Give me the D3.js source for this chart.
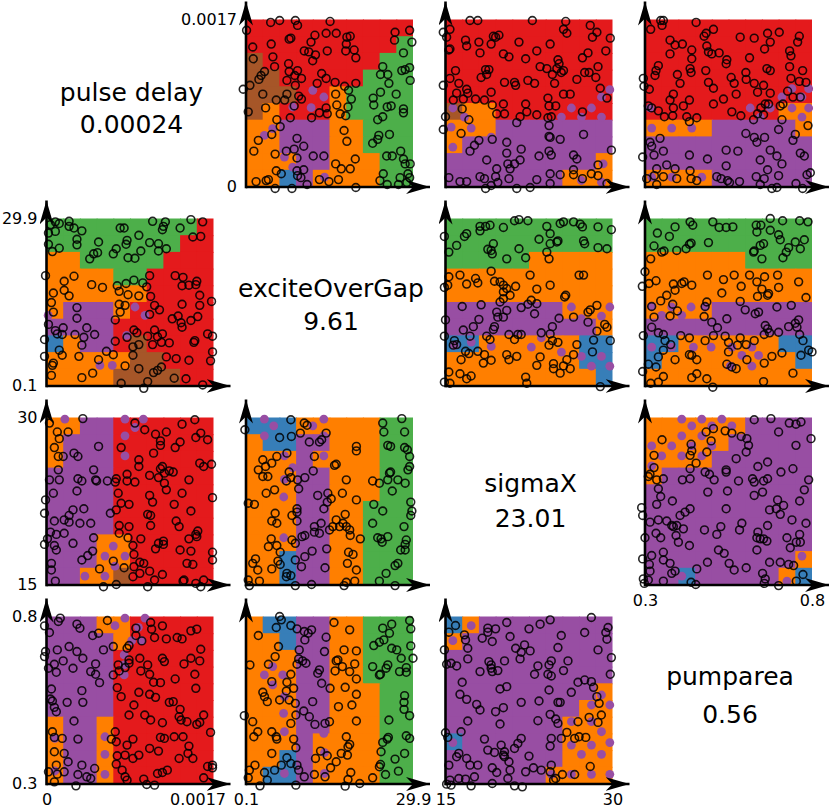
<!DOCTYPE html>
<html>
<head>
<meta charset="utf-8">
<script src="https://cdn.jsdelivr.net/npm/d3@7"></script>
<style>
  html, body { margin: 0; padding: 0; background: #fff; }
  svg { display: block; font-family: "DejaVu Sans", sans-serif; }
</style>
</head>
<body>
<svg id="chart" width="829" height="809"></svg>
<script>
const dimNames = ['pulse delay', 'exciteOverGap', 'sigmaX', 'pumparea']
const dimMeans = ['0.00024', '9.61', '23.01', '0.56']
const dimDomains = [[0, 0.0017], [0.1, 29.9], [15, 30], [0.3, 0.8]]
const dimTicks = [['0', '0.0017'], ['0.1', '29.9'], ['15', '30'], ['0.3', '0.8']]

const classColors = { R: '#e41a1c', B: '#377eb8', G: '#4daf4a', P: '#984ea3', O: '#ff7f00', N: '#a65628' }

// sampled points, [upper dim, left dim] of the top right panels. the lower panels are the same pairs flipped
const excitePulse = [[4.5,.00167],[6.1,.00169],[8.9,.00169],[9.3,.00164],[15.1,.00168],[.2,.00159],[26.7,.00157],[29.3,.00159],[12.4,.00154],[14.4,.00156],[16.2,.00156],[8.1,.00151],[7.8,.0015],[18.1,.00152],[18.7,.00153],[26.6,.00149],[29.7,.00147],[4.6,.00145],[1.3,.00142],[11.7,.00147],[18,.00145],[17.9,.00138],[10.5,.00138],[11.3,.00137],[12.5,.00134],[14.6,.00138],[19.4,.00139],[4.9,.00132],[1.4,.0013],[19.7,.00131],[12,.00128],[7.7,.00125],[28.2,.00136],[5.2,.00122],[24.5,.00122],[7.8,.00117],[9.3,.00118],[3.4,.00117],[2.8,.00113],[2.4,.00109],[7.4,.00108],[13.6,.00115],[14.4,.0011],[8.8,.00113],[10,.0011],[16,.00106],[12.8,.00105],[19.7,.00105],[24.1,.00114],[25.4,.00114],[27.9,.00118],[28.5,.00119],[29.3,.00121],[25.6,.00105],[29.4,.00108],[.8,.00103],[-.4,.00099],[8.9,.00103],[17.7,.00102],[18.4,.00098],[24.1,.00096],[22.8,.0009],[26.9,.00094],[3.1,.00094],[7.4,.00094],[16.1,.00094],[5.5,.00088],[7,.00088],[9.5,.00092],[10,.00089],[18.9,.00089],[22.9,.00083],[25.3,.00081],[26,.00082],[28.2,.00079],[28.2,.00075],[.5,.00076],[3.6,.0008],[8.7,.00082],[14.4,.0008],[16.3,.00083],[18.3,.00081],[13.2,.00075],[14.6,.00074],[11.8,.0007],[16.9,.00074],[17.9,.00072],[8,.0007],[23.6,.00068],[24.5,.00071],[5.6,.00068],[6.2,.00061],[4.7,.00053],[2.3,.00047],[17.6,.00057],[18.1,.00046],[25.7,.00053],[23.8,.00052],[23.6,.00048],[22.7,.00044],[9.2,.00049],[10.4,.00041],[8.7,.00038],[1.5,.00036],[5.3,.00033],[7.3,.00036],[9.2,.00029],[12.1,.00031],[14,.00031],[19.6,.00028],[25.2,.00031],[26.2,.00031],[27.7,.00036],[28.2,.00028],[28.5,.00023],[29.4,.00023],[16.1,.00023],[17.1,.00018],[18.7,.00018],[5.5,.00016],[9.2,.00016],[10.4,.00017],[6.4,.00013],[9.3,.00011],[9.9,.00009],[24.6,.00013],[27.6,.00009],[29,.00013],[29.3,.00009],[1.9,.00005],[3.7,.00006],[4.1,.00007],[13.2,.00007],[14.9,.00005],[16.6,.00007],[11,.00002],[5.3,-.00002],[8.3,-.00002],[19.7,-.00001],[25.3,.00002],[27.3,.00002],[28.8,.00004],[24,.00006]]

const sigmaPulse = [[17.2,.00169],[17.9,.00169],[22.8,.00169],[25.8,.00168],[28,.00164],[15.4,.0016],[14.8,.00157],[25.6,.0016],[25.9,.00156],[28.6,.00157],[19.3,.00153],[19.8,.00154],[19.5,.00152],[28.2,.00152],[29.8,.00151],[15.1,.00152],[16.8,.00149],[18,.00147],[21.6,.00147],[24.4,.00145],[19.1,.00145],[16.9,.00143],[15.3,.00139],[15.4,.0014],[18.1,.00136],[23.2,.00138],[27.8,.00136],[29.4,.00138],[20.2,.00135],[20.7,.00132],[22.2,.0013],[27.3,.00131],[25.1,.00129],[25.2,.00125],[15.9,.00118],[23.5,.00122],[24.1,.0012],[18.6,.00119],[18.9,.00119],[18.7,.00114],[28.7,.00122],[25,.0012],[25.6,.00118],[25.4,.00116],[24.6,.00114],[27.5,.00116],[27.9,.00116],[18.2,.00111],[28.5,.00111],[15.4,.0011],[26.8,.00109],[20.3,.00106],[21.2,.00106],[21.3,.00103],[22.4,.00108],[23,.00105],[24.8,.00105],[16.2,.00105],[14.8,.00103],[28.9,.001],[16.9,.00099],[19.1,.00096],[25.6,.00094],[26.2,.00094],[29.5,.0009],[16,.00095],[15.7,.00088],[16.6,.00089],[17.7,.00089],[18.5,.00088],[24.2,.0009],[17,.00095],[22.2,.00084],[20.2,.00084],[24.3,.00082],[24.9,.00082],[19.2,.00083],[16.5,.00079],[19.6,.00074],[20.3,.00074],[22.3,.00076],[23.2,.00073],[21.7,.00071],[27.3,.00076],[17.1,.00068],[24.2,.0007],[24.5,.00071],[15,.00071],[21.4,.00065],[24.3,.00062],[14.8,.00058],[16.4,.00054],[27.4,.00053],[24.3,.00051],[24.4,.0005],[19.2,.00048],[25.3,.00048],[20.5,.00045],[18,.00047],[17.6,.00042],[17.2,.00036],[21.8,.00038],[20.5,.00034],[24.3,.00036],[24.5,.00032],[29.9,.00037],[23.4,.00031],[26.5,.00032],[26.8,.00028],[18.7,.00027],[21.7,.00027],[21.2,.00023],[20.6,.00023],[20.8,.00018],[19.6,.00018],[28.7,.00022],[26.5,.00017],[26.5,.00012],[27.3,.00008],[28.1,.00013],[28.7,.00011],[25.3,.00012],[24.4,.00013],[15.3,.00009],[18.1,.0001],[18.5,.00008],[19.5,.0001],[20.7,.00008],[16.3,.00005],[16.9,.00005],[19.7,.00004],[23.2,.00007],[24.4,.00003],[18.6,-.00002],[21.4,-.00002],[22.6,-.00001],[19.1,.00001],[29.5,.00003]]

const pumpPulse = [[.347,.00169],[.355,.00169],[.351,.00164],[.453,.00167],[.317,.0016],[.505,.0016],[.483,.00156],[.477,.00153],[.585,.00152],[.627,.00151],[.667,.00156],[.702,.00157],[.675,.00147],[.762,.00153],[.757,.00147],[.375,.00149],[.412,.00145],[.39,.00144],[.485,.00143],[.658,.0014],[.44,.00139],[.733,.00138],[.375,.00135],[.49,.00137],[.5,.00135],[.522,.00136],[.737,.00133],[.613,.00131],[.44,.0013],[.545,.00129],[.543,.00125],[.34,.00123],[.333,.00118],[.33,.00113],[.435,.0012],[.482,.00118],[.438,.00116],[.602,.00116],[.665,.0012],[.675,.00118],[.733,.00122],[.772,.00118],[.397,.00114],[.558,.00111],[.737,.0011],[.295,.0011],[.297,.00102],[.405,.00105],[.49,.00106],[.567,.00105],[.603,.00109],[.627,.00105],[.655,.00103],[.762,.00107],[.782,.00106],[.313,.00099],[.505,.001],[.385,.00094],[.637,.00096],[.675,.00095],[.727,.00097],[.573,.00094],[.535,.00089],[.433,.00088],[.375,.00088],[.743,.00091],[.765,.00091],[.505,.00084],[.66,.00084],[.67,.00084],[.713,.00084],[.705,.00082],[.32,.0008],[.385,.0008],[.415,.00082],[.31,.00082],[.34,.00077],[.56,.00076],[.647,.0008],[.637,.00074],[.655,.00073],[.383,.00072],[.587,.00072],[.358,.00071],[.425,.00071],[.455,.0007],[.625,.00068],[.433,.00066],[.71,.00068],[.788,.00062],[.7,.00058],[.602,.00054],[.627,.0005],[.635,.00045],[.658,.0005],[.75,.00053],[.743,.00047],[.345,.00049],[.315,.00045],[.32,.00041],[.543,.00037],[.578,.00036],[.675,.00037],[.327,.00032],[.355,.00036],[.433,.00032],[.487,.00028],[.765,.00034],[.777,.00031],[.293,.0003],[.695,.00031],[.71,.00023],[.645,.00027],[.543,.00021],[.365,.00022],[.335,.00018],[.39,.00018],[.435,.00016],[.667,.00017],[.7,.00011],[.328,.00011],[.355,.0001],[.395,.00008],[.305,.00008],[.438,.00008],[.455,.00006],[.515,.0001],[.547,.00006],[.583,.00005],[.633,.0001],[.657,.00008],[.785,.00012],[.795,.00014],[.335,.00002],[.645,.00002],[.68,-.00002],[.695,-.00001],[.752,.00003],[.772,-.00002],[.528,.00008],[.553,.00004]]

const sigmaExcite = [[21.2,29.5],[21.6,29.7],[22.4,29.5],[24.1,28.5],[25.3,29],[25.6,29.3],[26.5,29.3],[27.1,28.9],[27.3,28.4],[28.7,28.4],[29.9,27.9],[18.1,28.5],[18.6,28.5],[19,28.7],[18.1,27.7],[20.2,28.3],[16.9,27.2],[14.9,26.7],[24.4,27.2],[16.7,26.7],[16,25.1],[23.4,26.2],[19.3,25.4],[24.4,25.4],[25,25.7],[25.1,25.9],[27.4,25.9],[27.5,25.4],[28.7,24.7],[29.5,24.5],[15.3,23.9],[18.8,24.4],[19.1,24.2],[19.2,23.6],[21.6,24.5],[24.1,23.9],[24.3,22.7],[20.5,22.7],[22.2,22.9],[19.1,20.5],[15.3,19.5],[16.3,19.8],[17.7,19.2],[17.9,18.4],[16.9,18.2],[22.6,19.8],[27,19.8],[27.4,19.8],[14.9,17.6],[15.2,18],[19.4,18.7],[19.9,18.6],[20.2,18],[24.4,18],[21.3,17.8],[23.2,17.3],[20.5,17.4],[20.2,16.8],[20.8,16.2],[20.2,15.6],[25.8,16.2],[25.7,15.9],[19.9,15],[22.4,14.6],[22.7,15.3],[23.2,14.7],[16.5,14.2],[18.2,14.5],[21.8,14],[28.6,14.4],[28,13.6],[27.8,13.2],[23,12.9],[19.6,13.2],[20.5,13.5],[19.7,12.3],[20.2,12.3],[26.5,12.3],[25.2,12.1],[15,11.8],[18,11.9],[27.8,11.4],[29.3,11],[29.5,10.5],[16.6,10],[17.5,10.6],[19.4,10.6],[19.3,10.1],[24.6,10.6],[28.6,9.8],[14.9,8.9],[17.2,8.9],[18.7,8.9],[19,8.3],[20.7,9.2],[21.5,9.2],[21.8,9.2],[21.2,8.3],[23.6,9.5],[24.4,9.3],[24.6,8.1],[25.1,7.8],[28.3,8.2],[29.8,8.1],[15.8,8.1],[16,7.4],[15.7,7.3],[24.3,7.3],[26.8,7.4],[28.2,6.1],[16.8,6.2],[17.1,5.8],[17.9,6.2],[18.5,5.6],[20.5,5.6],[20.7,4.7],[21.4,5.3],[23.5,5.2],[26.5,5.6],[25.9,4.7],[16.4,4.7],[18.4,4.1],[19.1,4.6],[23.2,3.7],[24.7,4],[24.7,3.1],[25.6,3.6],[26.2,3.1],[25.3,2.3],[15.3,2.5],[16.3,2.2],[17.3,1.8],[16.9,1.3],[22.2,1.6],[22.3,.5],[14.9,.7],[15.4,.5],[28.9,-.1]]

const pumpExcite = [[.39,28.4],[.435,29.3],[.443,28.7],[.503,29.3],[.522,28.3],[.543,28.3],[.563,28.4],[.633,28.7],[.647,28.7],[.675,29.9],[.712,29.5],[.763,29.5],[.788,29.3],[.635,27.5],[.675,27.8],[.337,27.3],[.373,26.7],[.7,27],[.705,26.1],[.75,25.7],[.777,26.1],[.49,25.6],[.438,25.5],[.433,25.3],[.327,25],[.395,24.2],[.423,24.5],[.655,25.4],[.645,25.1],[.73,24.7],[.723,23.9],[.765,24.5],[.625,23.9],[.627,24.1],[.35,23.9],[.357,24.1],[.65,22.7],[.713,22.9],[.317,22.7],[.3,20.4],[.487,19.8],[.535,19],[.567,19.8],[.613,19.8],[.658,19.5],[.635,18.6],[.697,19.8],[.76,18.6],[.782,15.8],[.312,18.3],[.333,18.8],[.292,17.8],[.385,18.2],[.39,17.1],[.41,18.3],[.417,18.6],[.44,18],[.588,17.8],[.65,17.3],[.7,17.6],[.67,16.5],[.667,16.2],[.53,16.6],[.637,16],[.365,16.2],[.347,15.2],[.585,15.1],[.383,14.6],[.32,14.2],[.485,15],[.48,14.2],[.738,14.4],[.695,14.1],[.6,13.6],[.63,12.9],[.64,13.2],[.397,13.4],[.327,12.3],[.375,12.5],[.477,12.4],[.545,12],[.76,11.8],[.75,11.2],[.32,10.5],[.5,11.4],[.517,10.4],[.66,10.8],[.73,10.6],[.667,10.2],[.755,10.5],[.34,9.5],[.355,9.2],[.295,9],[.407,9],[.433,8.6],[.505,9],[.54,8.9],[.585,8.6],[.657,9.2],[.673,9.5],[.7,9.6],[.763,9.2],[.773,8.1],[.48,8.1],[.55,7.8],[.627,8.1],[.603,7.4],[.577,7.3],[.377,7.4],[.36,8.1],[.355,6.4],[.55,6.1],[.79,6.4],[.8,6.1],[.71,5.9],[.68,5.3],[.767,5.5],[.433,5.6],[.44,5.5],[.455,4.7],[.39,4.7],[.34,5.2],[.605,4.7],[.31,3.9],[.333,3.4],[.657,4.1],[.545,3.9],[.573,3.1],[.56,3.4],[.293,2.6],[.743,2.3],[.355,1.7],[.44,1.5],[.455,2.2],[.485,1.3],[.317,.5],[.34,.7],[.503,-.2],[.655,.8]]

const pumpSigma = [[.627,29.8],[.677,29.9],[.732,29.5],[.752,29.4],[.767,29.6],[.7,28.7],[.797,28.1],[.505,29],[.483,28.7],[.54,28.8],[.56,28.6],[.588,28.3],[.605,28.1],[.351,28],[.498,27.9],[.438,27.6],[.61,27.5],[.752,27.5],[.603,26.9],[.327,26.6],[.485,26.9],[.44,27],[.435,26.6],[.453,25.9],[.573,26.3],[.667,26],[.638,25.6],[.543,25.3],[.543,25.1],[.743,25.4],[.327,25.5],[.315,24.9],[.435,25.4],[.48,25.1],[.493,24.9],[.707,25.1],[.31,24.7],[.335,24.4],[.355,24.5],[.412,24.4],[.435,24.5],[.58,24.3],[.507,24.4],[.622,24.5],[.627,24.2],[.655,24.3],[.667,24.5],[.79,24.4],[.488,23.3],[.547,23.4],[.627,23],[.652,23.3],[.777,23.5],[.34,23.6],[.347,22.9],[.335,22.2],[.382,22.5],[.763,22.5],[.543,21.8],[.697,22.6],[.715,22.1],[.693,21.8],[.673,21.7],[.29,21.9],[.293,21.2],[.435,21.8],[.42,21.5],[.405,21.2],[.705,21.3],[.74,20.8],[.782,20.5],[.315,20.6],[.34,20.8],[.365,20.7],[.38,20.3],[.385,20.2],[.395,20.3],[.415,20],[.59,20.5],[.667,20.3],[.583,19.9],[.527,20.2],[.478,19.9],[.515,19.5],[.763,19.5],[.638,19.7],[.333,19.6],[.347,19.2],[.3,19.2],[.393,19.4],[.4,18.8],[.635,19.2],[.645,19.1],[.655,19.1],[.665,18.9],[.725,19.2],[.433,18.5],[.765,18.8],[.635,18.1],[.753,18.8],[.735,18.3],[.52,18.1],[.537,17.8],[.355,17.9],[.32,17.6],[.355,17.2],[.293,17.3],[.313,16.8],[.375,16.9],[.487,17],[.552,16.9],[.567,16.3],[.603,16.5],[.673,17],[.705,17],[.73,16.8],[.315,16.2],[.38,16],[.455,16.4],[.39,16.2],[.652,16],[.773,15.9],[.745,16.7],[.295,15.5],[.31,15.4],[.355,15.3],[.438,15.2],[.452,15],[.657,15.1],[.7,14.9],[.66,15.5],[.753,15.3],[.298,15.1]]

// predicted class per cell, top row first
const grid01 = ['RRRRRRRRRR','RRRRRRRRRG','NRRRRRRRGG','NNRRRRRGGG','NNNRROGGGG','NORRROGGGG','OOPPPOOGGG','OOPPPOOGGG','OOOPPOOOGG','OOBPOOOOGG']
const grid02 = ['RRRRRRRRRR','RRRRRRRRRR','RRRRRRRRRR','RRRRRRRRRR','RRRRRRRRRR','NOORRRRRRR','OOOPPPPPPP','OPPPPPPPPP','PPPPPPPPPO','PPPPPPPOOO']
const grid03 = ['RRRRRRRRRR','RRRRRRRRRR','RRRRRRRRRR','RRRRRRRRRR','RRRRRRRRRR','RRRRRRRROO','OOOOPPPPPO','PPPPPPPPPP','PPPPPPPPPP','OOOOPPPPPP']
const grid10 = ['GGGGGGGGGR','GGGGGGGGRR','OOGGGGGRRR','OOOOGGRRRR','OOOOOORRRR','OPPPORRRRR','PPPPRRRRRR','BOPPRNRRRR','OOOOONNRRR','OOOONNNNRR']
const grid12 = ['GGGGGGGGGG','GGGGGGGGGG','GGGGGOOOOO','OOOOOOOOOO','OOOOOOOOOO','PPPPPPPOOO','PPPPPPPPPO','BBOOOOOOBB','OOOOOOOOBB','OOOOOOOOOB']
const grid13 = ['GGGGGGGGGG','GGGGGGGGGG','OOOOOOGGGG','OOOOOOOOOO','OOOOOOOOOO','OOOOPPPPPP','PPPPPPPPPP','BBOOOOOOBB','BOOOOOOOOB','OOOOOOOOOO']
const grid20 = ['OOPPRRRRRR','OPPPRRRRRR','OPPPRRRRRR','PPPPRRRRRR','PPPPRRRRRR','PPPPRRRRRR','PPPPRRRRRR','PPPOORRRRR','PPPOORRRRR','PPOONRRRRR']
const grid21 = ['BBBOOOOOGG','OBBPPOOOGG','OOOPOOOOGG','OOOPPOOOGG','OOOPPOOOGG','OOOPPOOGGG','OOOPPOOGGG','OOOPPOOGGG','OOBPPOOGGG','OOBPPOOGGG']
const grid23 = ['OOOOOOPPPP','OOOOOPPPPP','OOOOPPPPPP','OPPPPPPPPP','PPPPPPPPPP','PPPPPPPPPP','PPPPPPPPPP','PPPPPPPPPP','PPPPPPPPPO','PPBPPPPPOB']
const grid30 = ['PPPOORRRRR','PPPPORRRRR','PPPPRRRRRR','PPPPRRRRRR','PPPPRRRRRR','PPPPRRRRRR','OPPORRRRRR','OPPORRRRRR','OPPORRRRRR','OPPORRRRRR']
const grid31 = ['OBBPPOOGGG','OOBPPOOGGG','OOOPPOOGGG','OOOPPOOGGG','OOOPPOOOGG','OOOPPOOOGG','OOOPPOOOGG','OOOPOOOOGG','OOBPOOOOGG','OBBPOOOOGG']
const grid32 = ['BOPPPPPPPP','OPPPPPPPPP','PPPPPPPPPP','PPPPPPPPPP','PPPPPPPPPO','PPPPPPPPOO','PPPPPPPOOO','BPPPPPPOOO','PPPPPPPOOO','PPPPPPOOOO']

// purple specks that sit on top of the cells, in cell units [col, row]
const specks01 = [[4,4.24],[4.66,4.64],[2.8,5.24],[3.9,5.28],[1.1,6.94],[1.6,6.54],[2.3,8.24],[2.8,8.84],[4.7,9.44]]
const specks02 = [[.44,5.3],[1.14,5.84],[1.54,6.5],[.34,6.44],[2.74,7.04],[.44,7.64],[7.54,5.3],[8.74,5.3],[9.34,5.84],[6.94,5.84],[8.14,5.84],[9.34,4.64],[9.84,4.2],[9.44,8.64],[8.14,9.64],[9.34,9.74]]
const specks03 = [[.4,6.5],[1.6,6.5],[2.8,6.5],[.4,9.44],[1.6,9.44],[3.4,9.44],[6.3,5.3],[7.5,5.3],[6.9,5.84],[8.2,4.64],[8.8,4.14],[9.4,4.64],[9.8,4.14],[8.8,5.3],[9.8,5.3],[9.4,5.84],[.3,5.3]]
const specks10 = [[5.3,5.3],[5.9,5.8],[4.8,7],[3.2,8.8],[3.94,8.8],[.1,5.8]]
const specks12 = [[7.54,5.3],[9.84,5.3],[9.34,5.84],[8.14,6],[2.74,7.66],[5.14,7.7],[5.74,7.14],[6.94,8],[8.14,8.26],[9.34,8.26],[8.74,8.84],[9.84,8.84],[.54,7.6],[1.54,7.4]]
const specks13 = [[.4,5.26],[1.6,5.3],[2.76,5.3],[3.6,5.3],[1,5.8],[2.2,5.8],[.4,7.7],[1.6,7.7],[2.9,7.7],[3.96,7.7],[5.2,7.7],[6.4,7.7],[5.8,8.2],[6.8,8.2],[6.4,8.84],[5.1,8.84]]
const specks20 = [[1.1,.1],[4.7,.1],[5.3,.6],[5.8,.1],[4.7,1.1],[4.7,2.3],[3.5,8.3],[4.7,8.3],[4.1,8.9],[2.3,9.5],[3.5,9.5],[4,7.7]]
const specks21 = [[1.1,.1],[1.66,.5],[4,.5],[4.66,.1],[1.1,1.1],[4.66,1.1],[4.66,2.3],[2.3,2.3],[2.3,3.7],[2.26,4.76],[2.26,7.2],[2.8,3]]
const specks23 = [[2.2,.1],[3.4,.1],[4.6,.1],[2.8,.5],[4,.5],[5.2,.5],[2.2,1.1],[3.4,1.1],[.4,1.7],[1.6,1.7],[2.8,1.7],[4,1.7],[1,2.3],[2.2,2.3],[3.4,2.3],[.4,2.9],[2.2,9.5],[9.4,8.3],[8.5,9.8]]
const specks30 = [[4.1,.55],[4.7,.1],[5.5,.65],[5.9,.1],[5.7,1.45],[5.1,1.45],[4.65,2.3],[4.65,2.9],[4.65,3.5],[3.5,7.2],[3.5,8.25],[3.5,9.45],[.5,7.3],[.5,9.25]]
const specks31 = [[1.1,3.5],[2.2,3.5],[1.6,3],[1.6,4.1],[2.3,4.8],[2.25,5.8],[2.3,6.9],[4.66,7],[4.7,8.15],[2.3,9.4],[4.7,9.4]]
const specks32 = [[1.54,.55],[.44,1.45],[.44,7.55],[8.74,5.3],[9.84,5.3],[9.34,4.7],[7.54,6.3],[8.74,6.3],[9.34,6.9],[7.54,7.7],[8.74,7.7],[9.84,7.55],[8.14,8.25],[9.34,8.25],[7.54,9.45],[8.74,9.45],[6.34,9.45],[9.84,9.45]]

const pairs = {
  '0,1': excitePulse, '0,2': sigmaPulse, '0,3': pumpPulse,
  '1,2': sigmaExcite, '1,3': pumpExcite, '2,3': pumpSigma
}
const grids = { '0,1': grid01, '0,2': grid02, '0,3': grid03, '1,0': grid10, '1,2': grid12, '1,3': grid13, '2,0': grid20, '2,1': grid21, '2,3': grid23, '3,0': grid30, '3,1': grid31, '3,2': grid32 }
const specks = { '0,1': specks01, '0,2': specks02, '0,3': specks03, '1,0': specks10, '1,2': specks12, '1,3': specks13, '2,0': specks20, '2,1': specks21, '2,3': specks23, '3,0': specks30, '3,1': specks31, '3,2': specks32 }

const size = 167
const left = (col) => 46.5 + 199.5 * col
const top_ = (row) => 19.5 + 199 * row
const gridScale = d3.scaleLinear().domain([0, 10]).range([0, size])

// text baselines of the two diagonal lines, from the panel center
const nameOffsets = [-2, -5, -9, -15]
const meanOffsets = [30, 28, 26, 23]

const svg = d3.select('#chart')

// stealth arrow for the axis ends
svg.append('defs').append('marker')
  .attr('id', 'arrow')
  .attr('markerUnits', 'userSpaceOnUse')
  .attr('viewBox', '0 0 24 14')
  .attr('markerWidth', 24)
  .attr('markerHeight', 14)
  .attr('refX', 24)
  .attr('refY', 7)
  .attr('orient', 'auto')
  .append('path')
  .attr('d', 'M 24 7 L 0 0 L 7 7 L 0 14 z')
  .attr('fill', '#000')

const styleTicks = (sel) => {
  sel.attr('fill', '#000')
    .style('font-size', '16px')
    .style('font-family', '"DejaVu Sans", sans-serif')
}

const drawPanel = (row, col) => {
  const x = d3.scaleLinear().domain(dimDomains[col]).range([0, size])
  const y = d3.scaleLinear().domain(dimDomains[row]).range([size, 0])
  const key = `${row},${col}`
  const g = svg.append('g').attr('transform', `translate(${left(col)}, ${top_(row)})`)

  const regions = g.append('g').style('filter', 'blur(0.5px)')
  const cells = grids[key].flatMap((line, r) => line.split('').map((c, i) => ({ r, i, c })))

  // inner cells overlap by a pixel so no seams show through
  regions.selectAll('rect')
    .data(cells)
    .enter()
    .append('rect')
    .attr('x', (d) => gridScale(d.i))
    .attr('y', (d) => gridScale(d.r))
    .attr('width', (d) => gridScale(1) + (d.i < 9 ? 1 : 0))
    .attr('height', (d) => gridScale(1) + (d.r < 9 ? 1 : 0))
    .attr('fill', (d) => classColors[d.c])

  regions.selectAll('circle')
    .data(specks[key])
    .enter()
    .append('circle')
    .attr('cx', (d) => gridScale(d[0]))
    .attr('cy', (d) => gridScale(d[1]))
    .attr('r', 4.4)
    .attr('fill', classColors.P)

  const points = row < col
    ? pairs[key]
    : pairs[`${col},${row}`].map((d) => [d[1], d[0]])

  g.append('g').selectAll('circle')
    .data(points)
    .enter()
    .append('circle')
    .attr('cx', (d) => x(d[0]))
    .attr('cy', (d) => y(d[1]))
    .attr('r', 3.9)
    .attr('fill', 'none')
    .attr('stroke', '#000')
    .attr('stroke-opacity', 0.85)
    .attr('stroke-width', 1.6)

  // bottom row and the panel above the last diagonal carry the x labels
  if (row === 3 || (row === 2 && col === 3)) {
    g.append('g')
      .attr('transform', `translate(0, ${size})`)
      .call(d3.axisBottom(x).tickValues(dimDomains[col]).tickSize(0).tickPadding(10)
        .tickFormat((d, i) => dimTicks[col][i]))
      .call((a) => a.select('.domain').remove())
      .selectAll('text')
      .call(styleTicks)
      .attr('dx', (d, i) => (col === 0 && i === 1 ? -16 : 0))
  }

  if (col === 0 || (row === 0 && col === 1)) {
    g.append('g')
      .call(d3.axisLeft(y).tickValues(dimDomains[row]).tickSize(0).tickPadding(9)
        .tickFormat((d, i) => dimTicks[row][i]))
      .call((a) => a.select('.domain').remove())
      .selectAll('text')
      .call(styleTicks)
  }

  g.append('line')
    .attr('x1', 0).attr('y1', size + 0.5)
    .attr('x2', size + 17).attr('y2', size + 0.5)
    .attr('stroke', '#000').attr('stroke-width', 2.6)
    .attr('marker-end', 'url(#arrow)')

  g.append('line')
    .attr('x1', 0).attr('y1', size + 1.8)
    .attr('x2', 0).attr('y2', -18)
    .attr('stroke', '#000').attr('stroke-width', 2.6)
    .attr('marker-end', 'url(#arrow)')
}

d3.range(4).forEach((row) => {
  d3.range(4).forEach((col) => {
    if (row !== col) {
      drawPanel(row, col)
      return
    }
    const label = svg.append('g')
      .attr('transform', `translate(${left(col) + size / 2 + 1.5}, ${top_(row) + size / 2})`)
      .attr('text-anchor', 'middle')
      .style('font-size', '25px')
    label.append('text').attr('y', nameOffsets[row]).text(dimNames[row])
    label.append('text').attr('y', meanOffsets[row]).text(dimMeans[row])
  })
})
</script>
</body>
</html>
